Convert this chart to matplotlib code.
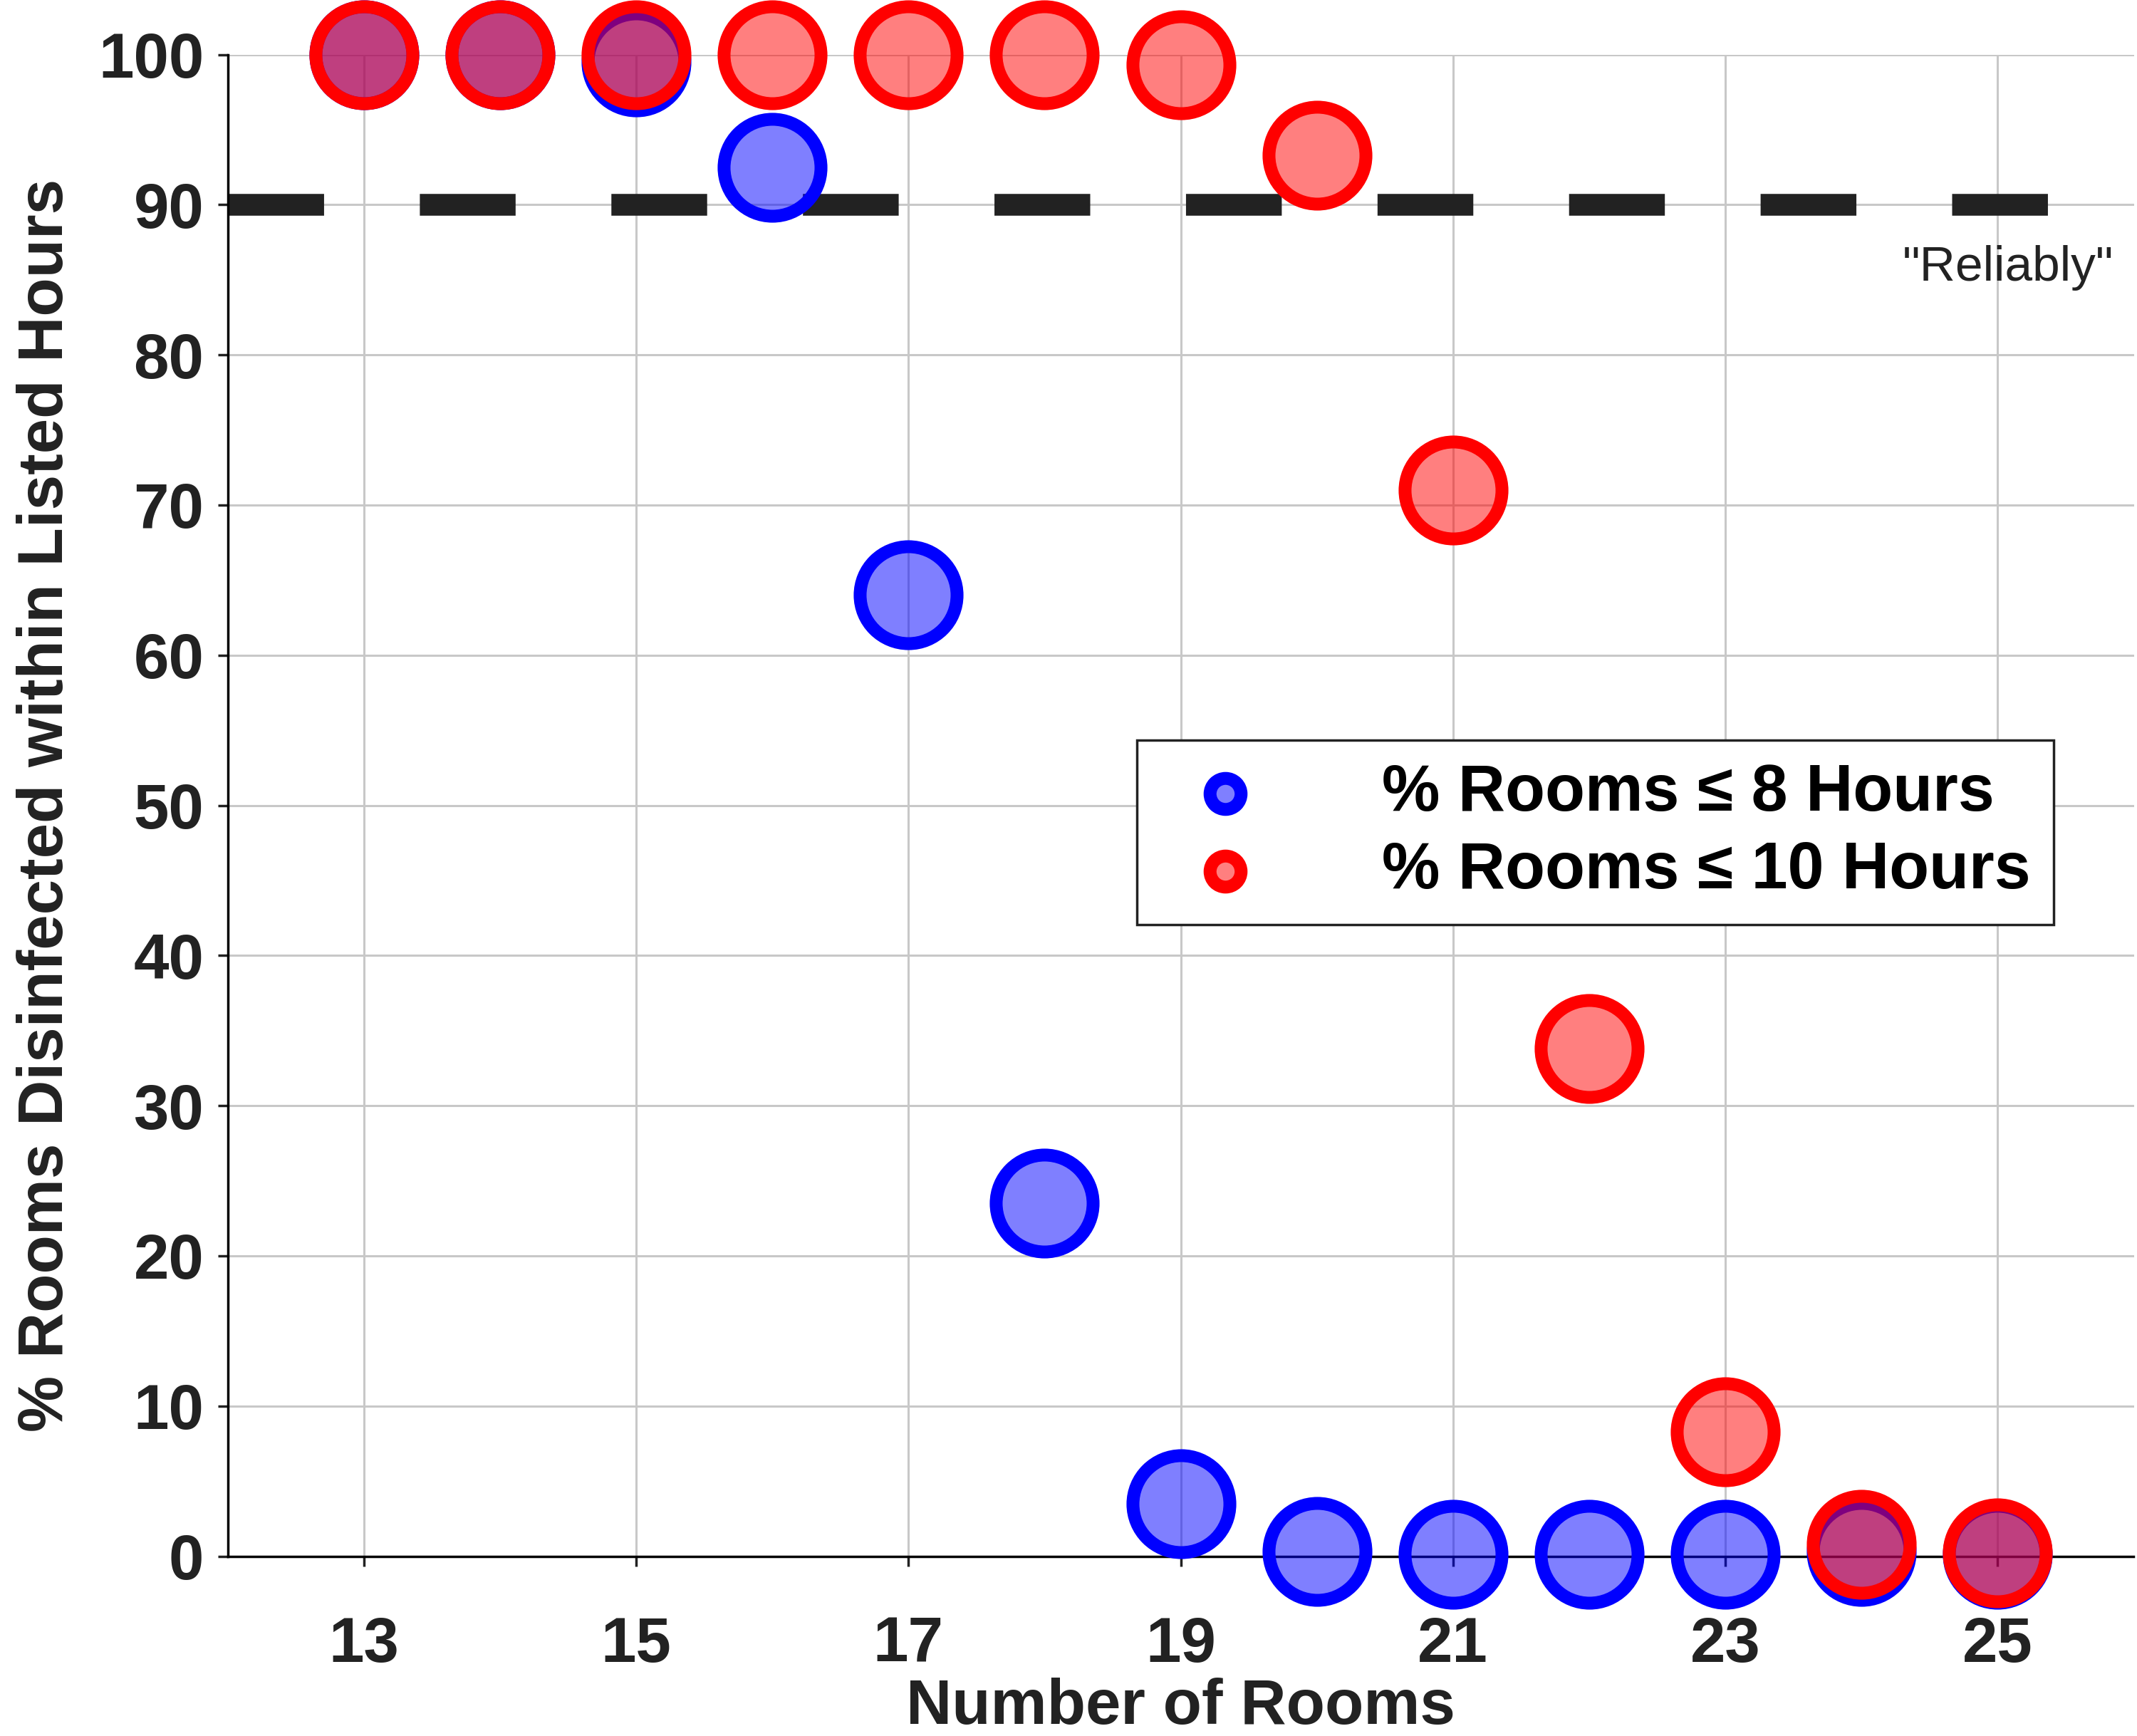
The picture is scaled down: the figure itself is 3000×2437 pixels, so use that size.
import matplotlib.pyplot as plt
import numpy as np

rooms = np.arange(13, 26)
pct_8h = [100, 100, 99.5, 92.5, 64, 23.5, 3.5, 0.3, 0.1, 0.1, 0.1, 0.3, 0.1]
pct_10h = [100, 100, 100, 100, 100, 100, 99.3, 93.3, 71, 33.8, 8.3, 0.8, 0.2]
reliable_level = 90

plt.rcParams['font.family'] = ['Liberation Sans', 'DejaVu Sans']
fig = plt.figure(figsize=(30, 24.37), dpi=100)
ax = fig.add_axes([0.1065, 0.1036, 0.892, 0.865])

ax.axhline(reliable_level, color='#222222', lw=22, dashes=(4.4, 4.4), zorder=2)
ax.scatter(rooms, pct_8h, s=9600, facecolor=(0, 0, 1, 0.5), edgecolor='blue',
           linewidth=13, zorder=3, clip_on=False, label='% Rooms ≤ 8 Hours')
ax.scatter(rooms, pct_10h, s=9600, facecolor=(1, 0, 0, 0.5), edgecolor='red',
           linewidth=13, zorder=4, clip_on=False, label='% Rooms ≤ 10 Hours')
ax.text(25.85, 85.8, '"Reliably"', ha='right', va='center', fontsize=50, color='#222222')

ax.set_xlim(12, 26)
ax.set_ylim(0, 100)
ax.set_xticks(range(13, 26, 2))
ax.set_yticks(range(0, 101, 10))
ax.grid(True, color='#c8c8c8', lw=2.2)
ax.set_axisbelow(True)
for s in ['top', 'right']:
    ax.spines[s].set_visible(False)
for s in ['left', 'bottom']:
    ax.spines[s].set_linewidth(2.5)
ax.tick_params(axis='both', labelsize=64, width=2.5, length=10, colors='#222222')
ax.tick_params(axis='x', pad=50)
ax.tick_params(axis='y', pad=14)
for lab in ax.get_xticklabels() + ax.get_yticklabels():
    lab.set_fontweight('bold')
ax.set_xlabel('Number of Rooms', fontsize=64, fontweight='bold', color='#222222', labelpad=2)
ax.set_ylabel('% Rooms Disinfected within Listed Hours', fontsize=64, fontweight='bold',
              color='#222222', labelpad=22)

leg = ax.legend(loc='upper right', bbox_to_anchor=(0.975, 0.565),
                prop={'weight': 'bold', 'size': 66}, markerscale=0.32, fancybox=False,
                edgecolor='#222222', framealpha=1, borderpad=0.35, handletextpad=1.4,
                labelspacing=0.25)
leg.get_frame().set_linewidth(2.5)

fig.savefig('out.png', dpi=100)
